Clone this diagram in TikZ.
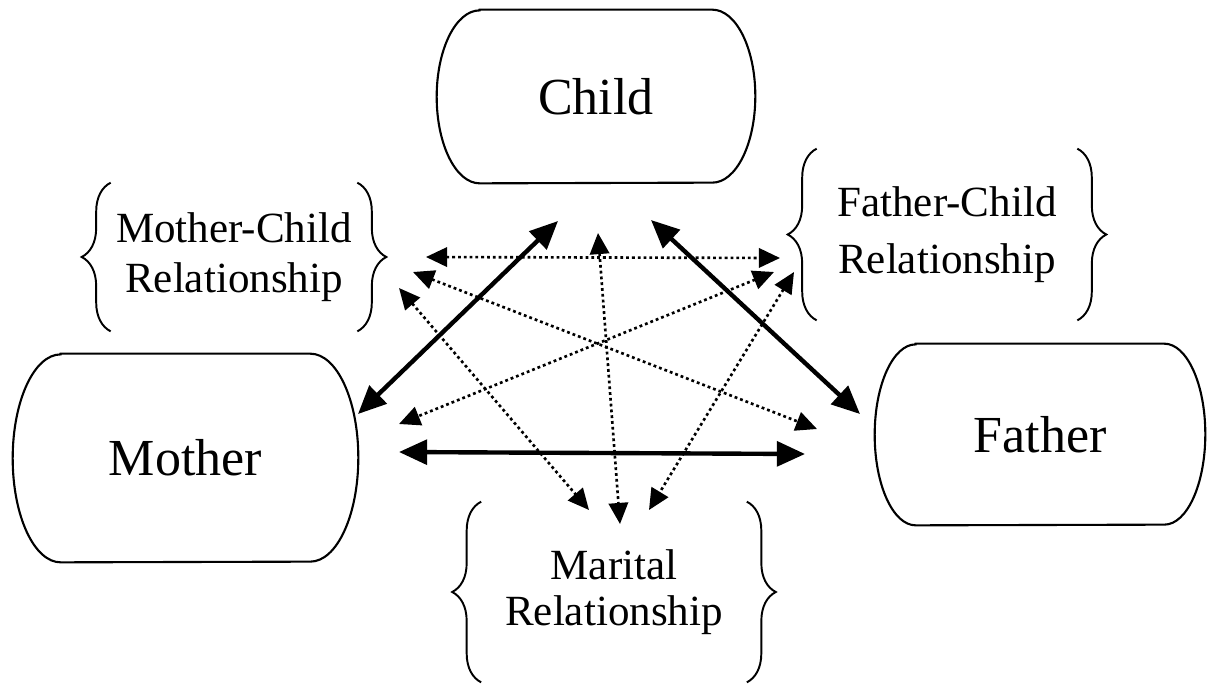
\documentclass[tikz,border=0pt]{standalone}
\usepackage{fontspec}
\setmainfont{Liberation Serif}
\usepackage{tikz}
\usetikzlibrary{arrows.meta, decorations.pathreplacing}
\tikzset{
  persnode/.style={rectangle, inner sep=0pt,
                   font=\fontsize{29.6}{34}\selectfont},
  persline/.style={draw=black, line width=1.2pt},
  relnode/.style={inner sep=0pt, align=center},
  bracepath/.style={decorate, decoration={brace, amplitude=0.58cm},
                    line width=1.1pt},
  solidarrow/.style={<->, >={Triangle[length=16pt,width=14pt]},
                     line width=2.5pt},
  dotarrow/.style={<->, >={Triangle[length=12pt,width=11pt]},
                   line width=1.5pt, dash pattern=on 1.6pt off 1.7pt}
}
% box with flat top and bottom and half-elliptic sides
% #1 name, #2 position, #3 width, #4 height, #5 side bulge, #6 text
\newcommand{\famnode}[6]{%
  \node[persnode, minimum width=#3, minimum height=#4] (#1) at #2 {#6};
  \draw[persline] ([xshift=#5]#1.north west) -- ([xshift=-#5]#1.north east)
    arc[start angle=90, end angle=-90, x radius=#5, y radius=#4/2]
    -- ([xshift=#5]#1.south west)
    arc[start angle=270, end angle=90, x radius=#5, y radius=#4/2] -- cycle;
}
\begin{document}
\begin{tikzpicture}[x=0.02cm, y=-0.02cm]
  \useasboundingbox (0,0) rectangle (1207,684);

  % the three family members
  \famnode{child}{(596,96.5)}{6.36cm}{3.46cm}{0.86cm}{Child}
  \famnode{mother}{(185.5,458)}{6.9cm}{4.16cm}{0.96cm}{Mother}
  \famnode{father}{(1040,434.5)}{6.6cm}{3.62cm}{0.82cm}{Father}

  % the relationships, each between braces
  \node[relnode, minimum width=4.92cm, minimum height=2.96cm,
        font=\fontsize{24.5}{28.5}\selectfont] (mcrel) at (234,257)
      {Mother-Child\\Relationship};
  \node[relnode, minimum width=5.2cm, minimum height=3.42cm,
        font=\fontsize{24.5}{32.4}\selectfont] (fcrel) at (947,234.5)
      {Father-Child\\Relationship};
  \node[relnode, minimum width=5.3cm, minimum height=3.6cm,
        font=\fontsize{24.5}{26.2}\selectfont] (marrel) at (614,592)
      {Marital\\Relationship};

  \foreach \r in {mcrel, fcrel, marrel} {
    \draw[bracepath] (\r.south west) -- (\r.north west);
    \draw[bracepath] (\r.north east) -- (\r.south east);
  }

  % arrow ends
  \coordinate (m1) at (358,414);
  \coordinate (c1) at (558,221);
  \coordinate (c2) at (651,220);
  \coordinate (f1) at (860,414);
  \coordinate (m2) at (399,452);
  \coordinate (f2) at (805,454);
  \coordinate (mr1) at (426,257);
  \coordinate (fr1) at (780,258);
  \coordinate (mr2) at (413,272);
  \coordinate (f3) at (817,429);
  \coordinate (mr3) at (399,288);
  \coordinate (wr1) at (589,510);
  \coordinate (fr2) at (774,272);
  \coordinate (m3) at (399,424);
  \coordinate (fr3) at (794,272);
  \coordinate (wr3) at (649,510);
  \coordinate (c3) at (598,233);
  \coordinate (wr2) at (620,524);

  \foreach \from/\to in {m1/c1, c2/f1, m2/f2}
    \draw[solidarrow] (\from) -- (\to);
  \foreach \from/\to in {mr1/fr1, mr2/f3, mr3/wr1, fr2/m3, fr3/wr3, c3/wr2}
    \draw[dotarrow] (\from) -- (\to);
\end{tikzpicture}
\end{document}
